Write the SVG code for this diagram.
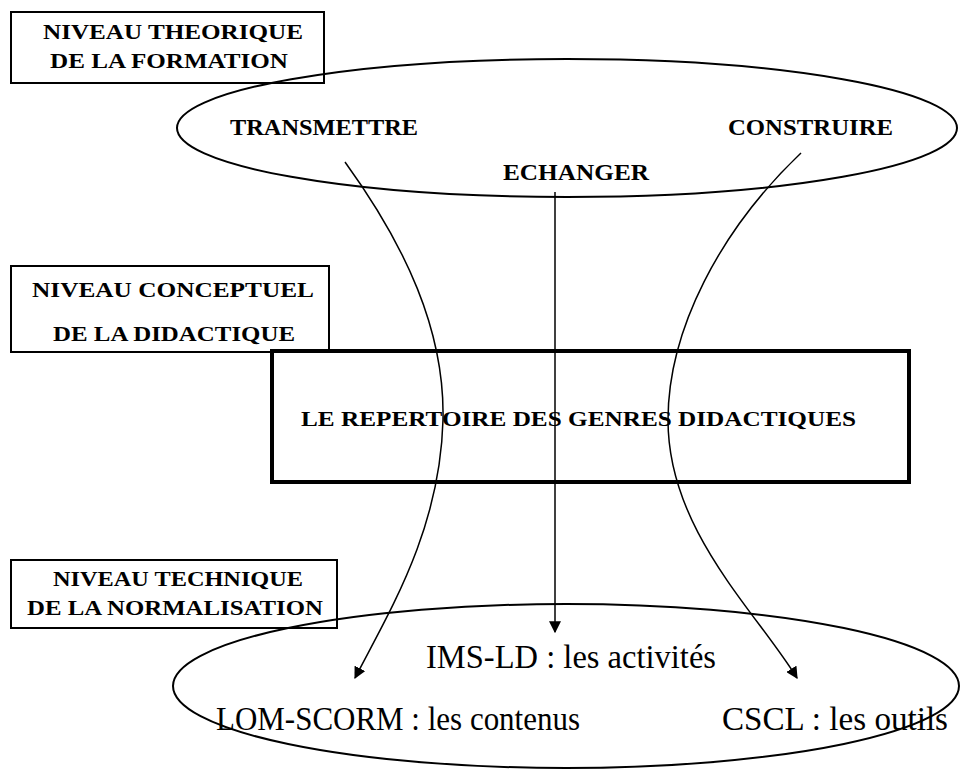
<svg xmlns="http://www.w3.org/2000/svg" width="961" height="769" viewBox="0 0 961 769">
<style>
.box{fill:none;stroke:#000;stroke-width:2}
.ell{fill:none;stroke:#000;stroke-width:2}
.lbl{font-family:"Liberation Serif","Times New Roman",serif;font-weight:bold;font-size:21px;fill:#000}
.mid{font-family:"Liberation Serif","Times New Roman",serif;font-weight:bold;font-size:24px;fill:#000}
.big{font-family:"Liberation Serif","Times New Roman",serif;font-size:33px;fill:#000}
.con{fill:none;stroke:#000;stroke-width:1.5}
</style>
<defs>
<marker id="ah" viewBox="0 0 10 10" refX="9" refY="5" markerWidth="12" markerHeight="12" markerUnits="userSpaceOnUse" orient="auto">
<path d="M0,0 L10,5 L0,10 z" fill="#000"/>
</marker>
</defs>
<g id="ellipse-top"><ellipse class="ell" cx="567" cy="128" rx="390" ry="69"/></g>
<g id="ellipse-bottom"><ellipse class="ell" cx="566" cy="686" rx="393" ry="82"/></g>
<g id="niveau-theorique">
<rect class="box" x="11" y="12" width="313" height="71"/>
<text class="lbl" x="43" y="39" textLength="260" lengthAdjust="spacingAndGlyphs">NIVEAU THEORIQUE</text>
<text class="lbl" x="50" y="68" textLength="238" lengthAdjust="spacingAndGlyphs">DE LA FORMATION</text>
</g>
<g id="niveau-conceptuel">
<rect class="box" x="11" y="266" width="318" height="86"/>
<text class="lbl" x="32" y="297" textLength="282" lengthAdjust="spacingAndGlyphs">NIVEAU  CONCEPTUEL</text>
<text class="lbl" x="53" y="341" textLength="242" lengthAdjust="spacingAndGlyphs">DE LA DIDACTIQUE</text>
</g>
<g id="niveau-technique">
<rect class="box" x="11" y="560" width="326" height="68"/>
<text class="lbl" x="53" y="586" textLength="250" lengthAdjust="spacingAndGlyphs">NIVEAU TECHNIQUE</text>
<text class="lbl" x="27" y="615" textLength="296" lengthAdjust="spacingAndGlyphs">DE LA NORMALISATION</text>
</g>
<g id="transmettre"><text class="mid" x="230" y="135" textLength="188" lengthAdjust="spacingAndGlyphs">TRANSMETTRE</text></g>
<g id="construire"><text class="mid" x="728" y="135" textLength="165" lengthAdjust="spacingAndGlyphs">CONSTRUIRE</text></g>
<g id="echanger"><text class="mid" x="503" y="180" textLength="146" lengthAdjust="spacingAndGlyphs">ECHANGER</text></g>
<g id="repertoire">
<rect x="272" y="351" width="637" height="131" fill="none" stroke="#000" stroke-width="4"/>
<text class="lbl" x="301" y="426" textLength="555" lengthAdjust="spacingAndGlyphs">LE REPERTOIRE DES GENRES  DIDACTIQUES</text>
</g>
<g id="ims-ld"><text class="big" x="426" y="668" textLength="290" lengthAdjust="spacingAndGlyphs">IMS-LD : les activités</text></g>
<g id="lom-scorm"><text class="big" x="216" y="730" textLength="364" lengthAdjust="spacingAndGlyphs">LOM-SCORM : les contenus</text></g>
<g id="cscl"><text class="big" x="722" y="730" textLength="226" lengthAdjust="spacingAndGlyphs">CSCL : les outils</text></g>
<g id="connectors">
<path class="con" marker-end="url(#ah)" d="M345,162 C405,245 445,330 443,420 C440,530 390,610 355,678"/>
<path class="con" marker-end="url(#ah)" d="M555,192 L555,632"/>
<path class="con" marker-end="url(#ah)" d="M801,153 C720,230 668,330 668,420 C668,530 755,610 797,678"/>
</g>
</svg>
